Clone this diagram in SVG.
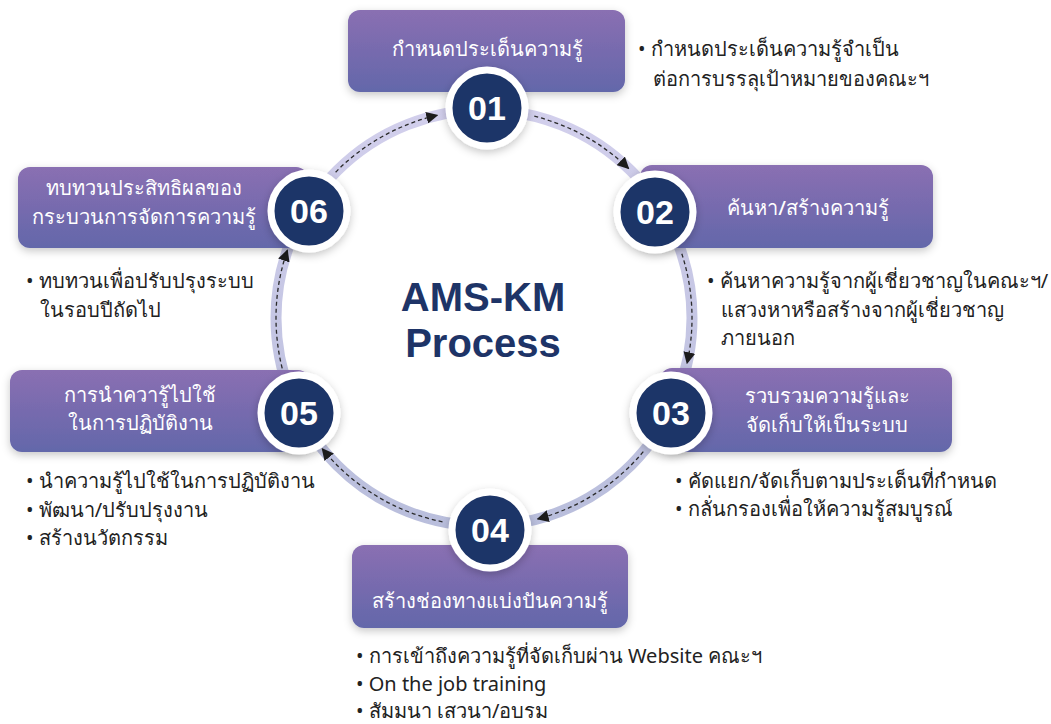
<svg xmlns="http://www.w3.org/2000/svg" width="1051" height="724" viewBox="0 0 1051 724">
<defs>
<linearGradient id="boxGrad" x1="0" y1="0" x2="0" y2="1">
<stop offset="0" stop-color="#8a6fb2"/>
<stop offset="1" stop-color="#6367aa"/>
</linearGradient>
<linearGradient id="ringGrad" x1="0" y1="0" x2="0" y2="1">
<stop offset="0" stop-color="#d2cfec"/>
<stop offset="1" stop-color="#b9bedc"/>
</linearGradient>
<filter id="shadow" x="-20%" y="-30%" width="140%" height="160%">
<feDropShadow dx="0" dy="3" stdDeviation="4" flood-color="#000" flood-opacity="0.22"/>
</filter>
<marker id="arrow" viewBox="0 0 10 10" refX="9" refY="5" markerWidth="12" markerHeight="12" markerUnits="userSpaceOnUse" orient="auto">
<path d="M0,0 L10,5 L0,10 Z" fill="#1c1c1c"/>
</marker>
<style>
.box{fill:url(#boxGrad);filter:url(#shadow);}
.num{fill:#1e3467;stroke:#fff;stroke-width:7;filter:url(#shadow);}
.numtxt{font-family:"Liberation Sans",Arial,sans-serif;font-weight:bold;font-size:34px;fill:#fff;text-anchor:middle;}
.btxt{font-family:"Noto Sans","DejaVu Sans",sans-serif;font-size:20px;font-weight:500;fill:#fff;text-anchor:middle;}
.desc{font-family:"Noto Sans","DejaVu Sans",sans-serif;font-size:20px;fill:#222;}
.dash{fill:none;stroke:#2a2a2a;stroke-width:1.3;stroke-dasharray:4 3;marker-end:url(#arrow);}
.title{font-family:"Liberation Sans",Arial,sans-serif;font-weight:bold;font-size:40px;fill:#1e3467;text-anchor:middle;}
</style>
</defs>
<rect width="1051" height="724" fill="#fff"/>
<g id="ring">
<circle cx="484" cy="318" r="208" fill="none" stroke="url(#ringGrad)" stroke-width="11"/>
</g>
<g id="connectors">
<path class="dash" d="M534.3,116.2 A208,208 0 0 1 628.5,168.4"/>
<path class="dash" d="M681.8,253.7 A208,208 0 0 1 687.1,363.0"/>
<path class="dash" d="M643.3,451.7 A208,208 0 0 1 537.8,518.9"/>
<path class="dash" d="M442.5,521.8 A208,208 0 0 1 322.4,448.9"/>
<path class="dash" d="M282.2,368.3 A208,208 0 0 1 287.3,250.3"/>
<path class="dash" d="M335.6,172.2 A208,208 0 0 1 437.2,115.3"/>
</g>
<g id="title">
<text class="title" x="483" y="311">AMS-KM</text>
<text class="title" x="483" y="357">Process</text>
</g>
<g id="node01">
<rect class="box" x="348" y="10" width="277" height="82" rx="12"/>
<text class="btxt" x="487" y="56">กำหนดประเด็นความรู้</text>
<circle class="num" cx="487" cy="108" r="38"/>
<text class="numtxt" x="487" y="120">01</text>
<text class="desc" x="638" y="56">• กำหนดประเด็นความรู้จำเป็น</text>
<text class="desc" x="653" y="86">ต่อการบรรลุเป้าหมายของคณะฯ</text>
</g>
<g id="node02">
<rect class="box" x="640" y="165" width="293" height="83" rx="12"/>
<text class="btxt" x="808" y="215">ค้นหา/สร้างความรู้</text>
<circle class="num" cx="655" cy="212" r="38"/>
<text class="numtxt" x="655" y="224">02</text>
<text class="desc" x="707" y="288">• ค้นหาความรู้จากผู้เชี่ยวชาญในคณะฯ/</text>
<text class="desc" x="721" y="317">แสวงหาหรือสร้างจากผู้เชี่ยวชาญ</text>
<text class="desc" x="721" y="345">ภายนอก</text>
</g>
<g id="node03">
<rect class="box" x="660" y="368" width="292" height="84" rx="12"/>
<text class="btxt" x="827" y="403">รวบรวมความรู้และ</text>
<text class="btxt" x="827" y="432">จัดเก็บให้เป็นระบบ</text>
<circle class="num" cx="671" cy="413" r="38"/>
<text class="numtxt" x="671" y="425">03</text>
<text class="desc" x="675" y="488">• คัดแยก/จัดเก็บตามประเด็นที่กำหนด</text>
<text class="desc" x="675" y="516">• กลั่นกรองเพื่อให้ความรู้สมบูรณ์</text>
</g>
<g id="node04">
<rect class="box" x="352" y="545" width="276" height="83" rx="12"/>
<text class="btxt" x="490" y="608">สร้างช่องทางแบ่งปันความรู้</text>
<circle class="num" cx="490" cy="530" r="38"/>
<text class="numtxt" x="490" y="542">04</text>
<text class="desc" x="356" y="663">• การเข้าถึงความรู้ที่จัดเก็บผ่าน Website คณะฯ</text>
<text class="desc" x="356" y="691">• On the job training</text>
<text class="desc" x="356" y="718">• สัมมนา เสวนา/อบรม</text>
</g>
<g id="node05">
<rect class="box" x="10" y="370" width="300" height="82" rx="12"/>
<text class="btxt" x="140" y="402">การนำควารู้ไปใช้</text>
<text class="btxt" x="140" y="430">ในการปฏิบัติงาน</text>
<circle class="num" cx="299" cy="413" r="38"/>
<text class="numtxt" x="299" y="425">05</text>
<text class="desc" x="26" y="488">• นำความรู้ไปใช้ในการปฏิบัติงาน</text>
<text class="desc" x="26" y="517">• พัฒนา/ปรับปรุงงาน</text>
<text class="desc" x="26" y="545">• สร้างนวัตกรรม</text>
</g>
<g id="node06">
<rect class="box" x="18" y="167" width="290" height="81" rx="12"/>
<text class="btxt" x="144" y="195">ทบทวนประสิทธิผลของ</text>
<text class="btxt" x="144" y="224">กระบวนการจัดการความรู้</text>
<circle class="num" cx="309" cy="211" r="38"/>
<text class="numtxt" x="309" y="223">06</text>
<text class="desc" x="26" y="288">• ทบทวนเพื่อปรับปรุงระบบ</text>
<text class="desc" x="40" y="317">ในรอบปีถัดไป</text>
</g>
</svg>
